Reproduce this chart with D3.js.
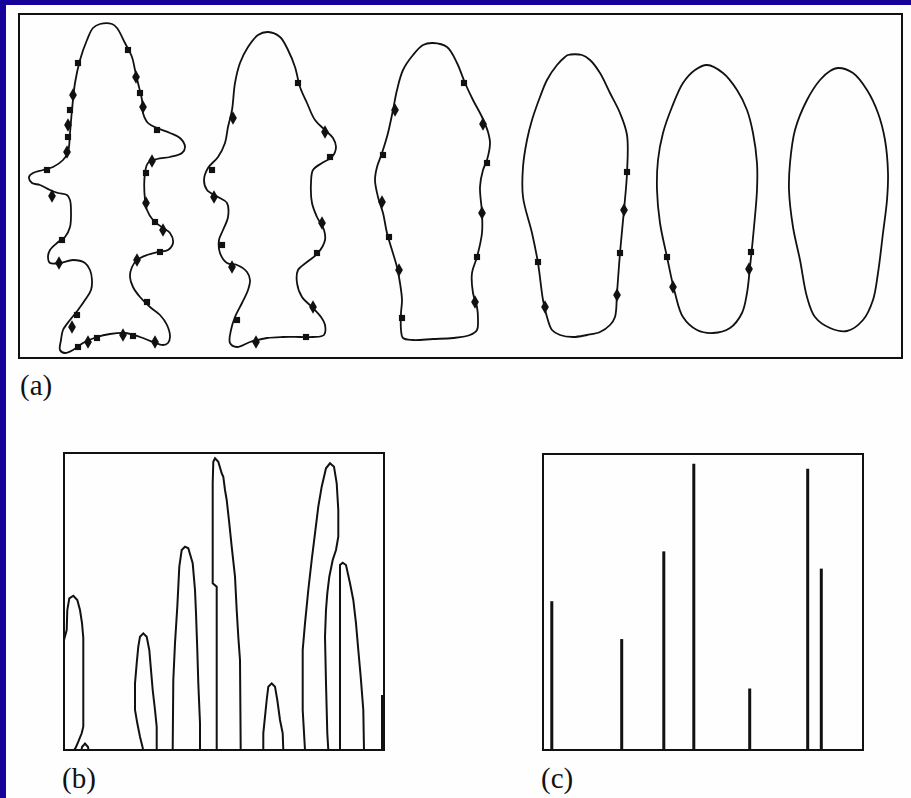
<!DOCTYPE html>
<html lang="en">
<head>
<meta charset="UTF-8">
<title>Curvature scale space of a contour</title>
<script src="https://d3js.org/d3.v7.min.js"></script>
<style>
    body { margin: 0; background: #15039a; }
    .frame { fill: none; stroke: #111; stroke-width: 2px; }
    .contour { fill: none; stroke: #111; stroke-width: 1.8px; }
    .arch { fill: none; stroke: #111; stroke-width: 2px; }
    .peak { stroke: #111; stroke-width: 3px; }
    .label { font-family: "Liberation Serif", "Times New Roman", serif; font-size: 29px; fill: #111; }
</style>
</head>
<body>
<svg width="911" height="798"></svg>
<script>
// (a) contours at increasing smoothing, outline points in figure units
var contour1 = [[81,10],[93,10],[98,14],[106,29],[113,43],[116,56],[119,69],[123,86],[124,99],[129,109],[138,114],[151,119],[161,124],[166,133],[163,139],[151,143],[138,145],[129,149],[126,159],[126,186],[128,196],[134,206],[144,214],[151,219],[154,229],[149,236],[139,238],[128,241],[118,246],[113,253],[111,263],[114,273],[121,283],[131,293],[141,301],[148,311],[151,323],[149,329],[144,331],[134,328],[121,323],[106,319],[91,320],[78,323],[64,329],[54,336],[46,339],[41,336],[42,326],[44,316],[51,306],[59,296],[66,286],[72,276],[73,266],[71,256],[66,249],[54,246],[41,249],[31,249],[29,243],[31,236],[38,229],[46,223],[51,213],[52,199],[51,186],[48,181],[39,179],[31,176],[21,171],[13,169],[10,163],[14,159],[24,156],[34,153],[44,146],[49,138],[51,119],[53,96],[56,69],[61,46],[68,26],[74,14]];
var contour2 = [[249,18],[261,23],[269,36],[276,53],[281,73],[288,89],[296,106],[306,116],[314,124],[317,133],[313,143],[303,149],[294,156],[292,169],[293,189],[298,203],[305,216],[306,226],[299,239],[288,248],[279,256],[278,269],[283,283],[293,293],[302,303],[306,311],[305,321],[294,323],[281,323],[264,323],[248,324],[231,328],[218,333],[211,329],[212,316],[216,303],[223,289],[229,276],[231,266],[228,258],[218,251],[208,249],[201,239],[200,226],[204,216],[209,203],[208,189],[199,183],[188,176],[185,166],[189,154],[199,143],[206,129],[209,113],[213,96],[216,69],[221,49],[229,33],[239,21]];
var contour3 = [[414,29],[428,33],[438,49],[446,69],[454,86],[463,103],[469,118],[471,129],[468,146],[464,156],[461,173],[463,199],[463,219],[458,243],[453,259],[454,279],[458,293],[459,306],[458,316],[451,321],[434,324],[414,325],[394,326],[384,324],[382,316],[382,299],[383,286],[381,269],[378,253],[373,236],[368,219],[364,199],[359,183],[356,166],[358,153],[363,139],[369,119],[374,96],[378,76],[384,56],[394,41],[404,31]];
var contour4 = [[549,41],[563,41],[571,46],[581,59],[591,79],[601,99],[608,121],[608,159],[605,196],[601,239],[598,279],[596,303],[591,311],[581,318],[568,321],[554,323],[541,321],[533,316],[528,303],[524,286],[519,249],[513,219],[504,183],[504,153],[508,126],[513,106],[521,83],[528,66],[538,51],[546,43]];
var contour5 = [[688,51],[704,59],[718,76],[728,96],[734,119],[738,149],[738,176],[735,213],[731,253],[728,279],[723,299],[711,314],[694,319],[678,316],[664,303],[656,279],[648,243],[641,209],[638,176],[639,146],[644,119],[653,93],[664,69],[676,56]];
var contour6 = [[819,54],[834,59],[848,76],[859,99],[866,126],[869,159],[868,186],[864,219],[859,259],[854,286],[844,306],[828,317],[811,314],[796,303],[788,283],[781,246],[774,213],[770,176],[771,149],[776,116],[788,86],[801,66],[811,57]];

// curvature zero crossings marked on each contour
var crossings1 = [[109,36],[117,63],[121,79],[124,93],[138,116],[133,147],[127,159],[127,189],[136,208],[144,216],[141,238],[118,246],[128,288],[136,328],[114,322],[104,321],[78,324],[69,328],[59,333],[53,313],[58,301],[40,249],[43,226],[33,182],[28,156],[48,138],[49,123],[49,111],[51,96],[54,81],[59,49]];
var crossings2 = [[279,69],[306,118],[311,143],[303,209],[298,239],[294,293],[287,323],[237,328],[218,306],[213,253],[203,231],[195,183],[193,156],[214,104]];
var crossings3 = [[445,69],[464,110],[468,149],[463,199],[458,243],[456,288],[383,304],[380,256],[370,223],[363,188],[364,141],[376,96]];
var crossings4 = [[608,158],[605,196],[601,239],[598,281],[519,248],[526,293]];
var crossings5 = [[648,243],[654,273],[732,238],[730,255]];
var crossings6 = [];

// (b) scale space image: arc length position vs. scale level
var archBranches = [
    [[0,110],[2.7,120],[3.3,140],[5.3,151.7],[9.3,154.3],[13.3,150],[16,140],[18,127],[19.3,112],[19.3,23.3],[17.7,16.7],[14.3,8.3],[11.7,2.3],[10,0]],
    [[17.5,0],[18,3],[21,6.5],[24,3],[24.5,0]],
    [[79,0],[78.7,2.3],[76,13.3],[73.3,26.7],[71,40],[71,66.7],[72.7,86.7],[74.3,103.3],[76,113.3],[79.3,116.7],[82.7,113.3],[85.3,100],[86.7,83.3],[88.7,60],[91,40],[92.7,23.3],[92.7,0]],
    [[108.7,0],[109.3,70],[111,106.7],[113.3,143.3],[115.3,183.3],[117.7,200],[121,203.3],[124.3,201.7],[128.7,186.7],[131,160],[132,136.7],[133.3,100],[134.3,66.7],[136,26.7],[136,0]],
    [[152.7,0],[152.7,163.3],[148.7,166.7],[148.7,266.7],[149.3,288.3],[151,291.7],[154.3,288.3],[157.7,276.7],[159.3,273.3],[161,260],[162.7,250],[165.3,226.7],[167.7,203.3],[171,173.3],[172.7,140],[174.3,113.3],[176,90],[176.7,0]],
    [[199.3,0],[199.3,16.7],[201,33.3],[202.7,50],[204.3,63.3],[207.7,66.7],[211,63.3],[213.3,50],[216,30],[218.7,16.7],[219.3,0]],
    [[241,0],[238.7,40],[238.7,100],[241,126.7],[244.3,160],[247.7,190],[251,216.7],[254.3,243.3],[257.7,263.3],[262,281.7],[266,286.7],[270,283.3],[272.7,266.7],[274.3,240],[274.3,213.3],[272,200],[268.7,190],[265.3,173.3],[263.3,156.7],[262,140],[261,113.3],[262,66.7],[263.3,16.7],[264.3,0]],
    [[276,0],[276,100],[276,185],[278.7,187.3],[282,185],[286,166.7],[289.3,150],[292,126.7],[294.3,100],[296.7,73.3],[299.3,40],[300,0]],
    [[318,55],[318,0]]
];

// (c) maxima of the arches
var peakPos = [8.8, 78.7, 120.8, 150.8, 206.7, 264.7, 278.3];
var peakScale = [149.3, 111.3, 199.3, 287.3, 61.7, 282.3, 182];

var panelLabels = ["(a)", "(b)", "(c)"];

var svg = d3.select("svg");

svg.append("rect").attr("width", 911).attr("height", 798).attr("fill", "#15039a");
svg.append("rect").attr("x", 6).attr("y", 5).attr("width", 905).attr("height", 793).attr("fill", "#fefefe");

// ---- panel (a)
var xa = d3.scaleLinear().domain([0, 883]).range([19, 902]);
var ya = d3.scaleLinear().domain([0, 344]).range([14, 358]);

svg.append("rect").attr("class", "frame")
    .attr("x", xa(0)).attr("y", ya(0))
    .attr("width", xa(883) - xa(0)).attr("height", ya(344) - ya(0));

var outline = d3.line()
    .x(d => xa(d[0]))
    .y(d => ya(d[1]))
    .curve(d3.curveCatmullRomClosed.alpha(0.5));

var contours = [contour1, contour2, contour3, contour4, contour5, contour6];
var crossings = [crossings1, crossings2, crossings3, crossings4, crossings5, crossings6];

svg.selectAll(".contour")
    .data(contours)
    .enter().append("path")
    .attr("class", "contour")
    .attr("d", outline);

crossings.forEach(function(pts) {
    svg.append("g").selectAll("path")
        .data(pts)
        .enter().append("path")
        .attr("transform", d => "translate(" + xa(d[0]) + "," + ya(d[1]) + ")")
        .attr("d", (d, i) => d3.symbol().type(i % 2 ? d3.symbolDiamond : d3.symbolSquare).size(i % 2 ? 52 : 38)())
        .attr("fill", "#111");
});

// ---- panel (b)
var xb = d3.scaleLinear().domain([0, 320]).range([64, 384]);
var yb = d3.scaleLinear().domain([0, 297]).range([750, 453]);

svg.append("clipPath").attr("id", "clipB")
    .append("rect").attr("x", 64).attr("y", 453).attr("width", 320).attr("height", 297);

var archLine = d3.line()
    .x(d => xb(d[0]))
    .y(d => yb(d[1]));

svg.append("g").attr("clip-path", "url(#clipB)")
    .selectAll("path")
    .data(archBranches)
    .enter().append("path")
    .attr("class", "arch")
    .attr("stroke-width", (d, i) => i === archBranches.length - 1 ? 3 : 2)
    .attr("d", archLine);

svg.append("rect").attr("class", "frame")
    .attr("x", xb(0)).attr("y", yb(297))
    .attr("width", xb(320) - xb(0)).attr("height", yb(0) - yb(297));

// ---- panel (c)
var xc = d3.scaleLinear().domain([0, 320]).range([543, 863]);
var yc = d3.scaleLinear().domain([0, 297]).range([750, 454]);

svg.append("g").selectAll("line")
    .data(peakPos)
    .enter().append("line")
    .attr("class", "peak")
    .attr("x1", d => xc(d)).attr("x2", d => xc(d))
    .attr("y1", yc(0))
    .attr("y2", (d, i) => yc(peakScale[i]));

svg.append("rect").attr("class", "frame")
    .attr("x", xc(0)).attr("y", yc(297))
    .attr("width", xc(320) - xc(0)).attr("height", yc(0) - yc(297));

// ---- labels
var labelPos = [[20, 395], [62, 788], [541, 788]];
svg.selectAll(".label")
    .data(panelLabels)
    .enter().append("text")
    .attr("class", "label")
    .attr("x", (d, i) => labelPos[i][0])
    .attr("y", (d, i) => labelPos[i][1])
    .text(d => d);
</script>
</body>
</html>
